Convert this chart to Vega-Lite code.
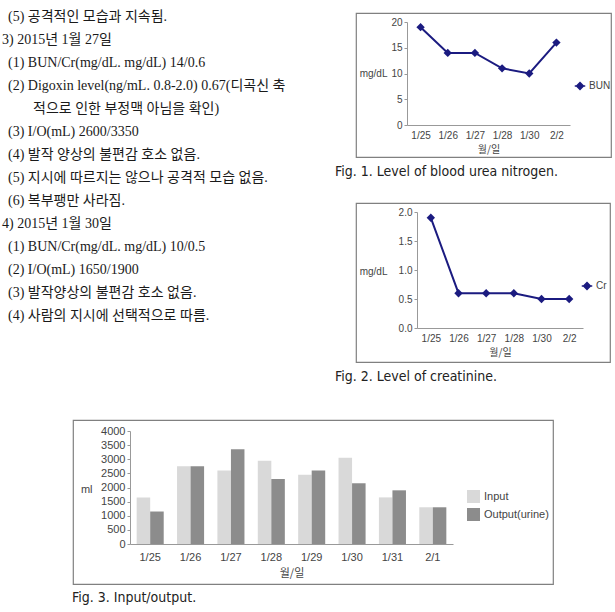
{
  "$schema": "https://vega.github.io/schema/vega-lite/v6.json",
  "padding": {"left": 0, "top": 10, "right": 0, "bottom": 0},
  "background": "white",
  "config": {
    "view": {"stroke": null},
    "axis": {"labelFont": "Liberation Sans, Noto Sans CJK KR", "titleFont": "Noto Sans CJK KR", "labelColor": "#444", "titleColor": "#444", "domainColor": "#999", "tickColor": "#999", "grid": false, "titleFontWeight": "normal"},
    "legend": {"labelFont": "Liberation Sans, Noto Sans CJK KR", "labelColor": "#444"},
    "title": {"font": "Liberation Sans Narrow, DejaVu Sans Condensed", "fontWeight": "normal", "color": "#222"}
  },
  "bounds": "full",
  "spacing": 34,
  "resolve": {"scale": {"color": "independent"}, "legend": {"color": "independent"}},
  "vconcat": [
    {
      "bounds": "flush",
      "spacing": 21,
      "resolve": {"scale": {"color": "independent"}, "legend": {"color": "independent"}},
      "hconcat": [
        {
          "width": 335,
          "height": 320,
          "view": {"stroke": null},
          "data": {"values": [
            {"line": 0, "level": 1, "text": "(5) 공격적인 모습과 지속됨."},
            {"line": 1, "level": 0, "text": "3) 2015년 1월 27일"},
            {"line": 2, "level": 1, "text": "(1) BUN/Cr(mg/dL. mg/dL) 14/0.6"},
            {"line": 3, "level": 1, "text": "(2) Digoxin level(ng/mL. 0.8-2.0) 0.67(디곡신 축"},
            {"line": 4, "level": 2, "text": "적으로 인한 부정맥 아님을 확인)"},
            {"line": 5, "level": 1, "text": "(3) I/O(mL) 2600/3350"},
            {"line": 6, "level": 1, "text": "(4) 발작 양상의 불편감 호소 없음."},
            {"line": 7, "level": 1, "text": "(5) 지시에 따르지는 않으나 공격적 모습 없음."},
            {"line": 8, "level": 1, "text": "(6) 복부팽만 사라짐."},
            {"line": 9, "level": 0, "text": "4) 2015년 1월 30일"},
            {"line": 10, "level": 1, "text": "(1) BUN/Cr(mg/dL. mg/dL) 10/0.5"},
            {"line": 11, "level": 1, "text": "(2) I/O(mL) 1650/1900"},
            {"line": 12, "level": 1, "text": "(3) 발작양상의 불편감 호소 없음."},
            {"line": 13, "level": 1, "text": "(4) 사람의 지시에 선택적으로 따름."}
          ]},
          "mark": {"type": "text", "align": "left", "baseline": "middle", "font": "Liberation Serif, Noto Sans CJK KR", "fontSize": 14, "color": "#1a1a1a"},
          "encoding": {
            "x": {"field": "level", "type": "quantitative", "scale": {"domain": [0, 1, 2], "range": [2, 8, 33]}, "axis": null},
            "y": {"field": "line", "type": "quantitative", "scale": {"domain": [0, 13], "range": [4, 302.5]}, "axis": null},
            "text": {"field": "text"}
          }
        },
        {
          "bounds": "flush",
          "spacing": 46,
          "resolve": {"scale": {"color": "independent"}, "legend": {"color": "independent"}},
          "vconcat": [
            {
              "width": 255,
              "height": 144,
              "view": {"stroke": "#808080", "strokeWidth": 1.2},
              "title": {"text": "Fig. 1. Level of blood urea nitrogen.", "orient": "bottom", "anchor": "start", "frame": "group", "dx": -21, "offset": 15, "baseline": "middle", "fontSize": 14},
              "data": {"values": [
                {"date": "1/25", "series": "BUN", "value": 19},
                {"date": "1/26", "series": "BUN", "value": 14},
                {"date": "1/27", "series": "BUN", "value": 14},
                {"date": "1/28", "series": "BUN", "value": 11},
                {"date": "1/30", "series": "BUN", "value": 10},
                {"date": "2/2", "series": "BUN", "value": 16}
              ]},
              "mark": {"type": "line", "strokeWidth": 2, "point": {"shape": "diamond", "size": 70, "filled": true}},
              "encoding": {
                "x": {"field": "date", "type": "ordinal", "sort": null, "scale": {"type": "point", "range": [51, 214], "padding": 0.5},
                      "axis": {"orient": "bottom", "offset": -32, "title": "월/일", "ticks": false, "labelAngle": 0, "labelPadding": 5, "labelFontSize": 10, "titleFontSize": 10, "titlePadding": 4}},
                "y": {"field": "value", "type": "quantitative", "scale": {"domain": [0, 20], "range": [112, 9], "nice": false},
                      "axis": {"orient": "left", "offset": -51, "values": [0, 5, 10, 15, 20], "tickSize": 3, "labelPadding": 2, "labelFontSize": 10, "title": "mg/dL", "titleAngle": 0, "titleX": -20, "titleY": 60, "titleAlign": "right", "titleBaseline": "middle", "titleFontSize": 10, "titleFont": "Liberation Sans"}},
                "color": {"field": "series", "type": "nominal", "scale": {"domain": ["BUN"], "range": ["#1b1b80"]},
                          "legend": {"orient": "none", "legendX": 218, "legendY": 67, "title": null, "padding": 0, "symbolType": "M-1,0H1M0,-0.65L0.65,0L0,0.65L-0.65,0Z", "symbolSize": 110, "symbolStrokeWidth": 1.5, "symbolFillColor": "#1b1b80", "labelFontSize": 10, "labelOffset": 3}}
              }
            },
            {
              "width": 254,
              "height": 159,
              "view": {"stroke": "#808080", "strokeWidth": 1.2},
              "title": {"text": "Fig. 2. Level of creatinine.", "orient": "bottom", "anchor": "start", "frame": "group", "dx": -21, "offset": 15, "baseline": "middle", "fontSize": 14},
              "data": {"values": [
                {"date": "1/25", "series": "Cr", "value": 1.9},
                {"date": "1/26", "series": "Cr", "value": 0.6},
                {"date": "1/27", "series": "Cr", "value": 0.6},
                {"date": "1/28", "series": "Cr", "value": 0.6},
                {"date": "1/30", "series": "Cr", "value": 0.5},
                {"date": "2/2", "series": "Cr", "value": 0.5}
              ]},
              "mark": {"type": "line", "strokeWidth": 2, "point": {"shape": "diamond", "size": 70, "filled": true}},
              "encoding": {
                "x": {"field": "date", "type": "ordinal", "sort": null, "scale": {"type": "point", "range": [61, 227], "padding": 0.5},
                      "axis": {"orient": "bottom", "offset": -34, "title": "월/일", "ticks": false, "labelAngle": 0, "labelPadding": 5, "labelFontSize": 10, "titleFontSize": 10, "titlePadding": 4}},
                "y": {"field": "value", "type": "quantitative", "scale": {"domain": [0, 2], "range": [125, 9], "nice": false},
                      "axis": {"orient": "left", "offset": -61, "values": [0, 0.5, 1, 1.5, 2], "format": ".1f", "tickSize": 3, "labelPadding": 2, "labelFontSize": 10, "title": "mg/dL", "titleAngle": 0, "titleX": -30, "titleY": 68, "titleAlign": "right", "titleBaseline": "middle", "titleFontSize": 10, "titleFont": "Liberation Sans"}},
                "color": {"field": "series", "type": "nominal", "scale": {"domain": ["Cr"], "range": ["#1b1b80"]},
                          "legend": {"orient": "none", "legendX": 225, "legendY": 77, "title": null, "padding": 0, "symbolType": "M-1,0H1M0,-0.65L0.65,0L0,0.65L-0.65,0Z", "symbolSize": 110, "symbolStrokeWidth": 1.5, "symbolFillColor": "#1b1b80", "labelFontSize": 10, "labelOffset": 3}}
              }
            }
          ]
        }
      ]
    },
    {
      "bounds": "flush",
      "spacing": 72,
      "resolve": {"scale": {"color": "independent"}, "legend": {"color": "independent"}},
      "hconcat": [
        {
          "width": 1,
          "height": 1,
          "view": {"stroke": null},
          "data": {"values": [{}]},
          "mark": {"type": "point", "opacity": 0, "size": 0},
          "encoding": {}
        },
        {
          "width": 480,
          "height": 164,
          "view": {"stroke": "#808080", "strokeWidth": 1.2},
          "title": {"text": "Fig. 3. Input/output.", "orient": "bottom", "anchor": "start", "frame": "group", "dx": -1, "offset": 14, "baseline": "middle", "fontSize": 14},
          "data": {"values": [
            {"date": "1/25", "type": "Input", "ml": 1650},
            {"date": "1/25", "type": "Output(urine)", "ml": 1150},
            {"date": "1/26", "type": "Input", "ml": 2750},
            {"date": "1/26", "type": "Output(urine)", "ml": 2750},
            {"date": "1/27", "type": "Input", "ml": 2600},
            {"date": "1/27", "type": "Output(urine)", "ml": 3350},
            {"date": "1/28", "type": "Input", "ml": 2950},
            {"date": "1/28", "type": "Output(urine)", "ml": 2300},
            {"date": "1/29", "type": "Input", "ml": 2450},
            {"date": "1/29", "type": "Output(urine)", "ml": 2600},
            {"date": "1/30", "type": "Input", "ml": 3050},
            {"date": "1/30", "type": "Output(urine)", "ml": 2150},
            {"date": "1/31", "type": "Input", "ml": 1650},
            {"date": "1/31", "type": "Output(urine)", "ml": 1900},
            {"date": "2/1", "type": "Input", "ml": 1300},
            {"date": "2/1", "type": "Output(urine)", "ml": 1300}
          ]},
          "mark": {"type": "bar"},
          "encoding": {
            "x": {"field": "date", "type": "ordinal", "sort": null, "scale": {"type": "band", "range": [57, 380], "paddingInner": 0.33, "paddingOuter": 0.165},
                  "axis": {"orient": "bottom", "offset": -40, "title": "월/일", "ticks": false, "labelAngle": 0, "labelPadding": 7, "labelFontSize": 11, "titleFontSize": 11, "titlePadding": 5}},
            "xOffset": {"field": "type", "type": "nominal", "sort": ["Input", "Output(urine)"]},
            "y": {"field": "ml", "type": "quantitative", "scale": {"domain": [0, 4000], "range": [124, 11], "nice": false},
                  "axis": {"orient": "left", "offset": -57, "values": [0, 500, 1000, 1500, 2000, 2500, 3000, 3500, 4000], "format": "d", "tickSize": 3, "labelPadding": 2, "labelFontSize": 11, "title": "ml", "titleAngle": 0, "titleX": -38, "titleY": 69, "titleAlign": "right", "titleBaseline": "middle", "titleFontSize": 11, "titleFont": "Liberation Sans"}},
            "color": {"field": "type", "type": "nominal", "scale": {"domain": ["Input", "Output(urine)"], "range": ["#d9d9d9", "#8c8c8c"]},
                      "legend": {"orient": "none", "legendX": 394, "legendY": 70, "title": null, "padding": 0, "symbolType": "square", "symbolSize": 169, "symbolStrokeWidth": 0, "rowPadding": 5, "labelFontSize": 11, "labelOffset": 4}}
          }
        }
      ]
    }
  ]
}
